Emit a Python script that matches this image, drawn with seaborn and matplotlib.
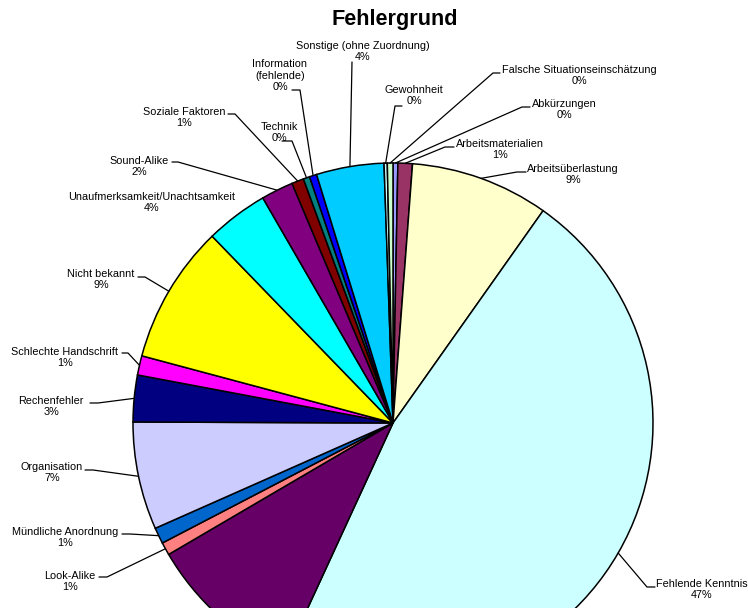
import numpy as np
import pandas as pd
import seaborn as sns
import matplotlib.pyplot as plt

sns.set_style("white")
plt.rcParams["font.family"] = ["Liberation Sans", "DejaVu Sans"]

# Daten (Anteile in %, im Uhrzeigersinn ab 12 Uhr)
kategorien = [
    "Abkürzungen", "Arbeitsmaterialien", "Arbeitsüberlastung", "Fehlende Kenntnis",
    "(abgeschnitten)", "Look-Alike", "Mündliche Anordnung", "Organisation",
    "Rechenfehler", "Schlechte Handschrift", "Nicht bekannt",
    "Unaufmerksamkeit/Unachtsamkeit", "Sound-Alike", "Soziale Faktoren", "Technik",
    "Information\n(fehlende)", "Sonstige (ohne Zuordnung)", "Gewohnheit",
    "Falsche Situationseinschätzung",
]
anteile = [0.3, 0.9, 8.6, 47.1, 9.7, 0.8, 1.0, 6.7, 2.9, 1.2, 8.6,
           3.9, 2.0, 0.75, 0.4, 0.45, 4.2, 0.2, 0.35]
farben = ["#9999FF", "#993366", "#FFFFCC", "#CCFFFF", "#660066", "#FF8080",
          "#0066CC", "#CCCCFF", "#000080", "#FF00FF", "#FFFF00", "#00FFFF",
          "#800080", "#800000", "#008080", "#0000FF", "#00CCFF", "#CCFFFF",
          "#CCFFCC"]

df = pd.DataFrame({"grund": kategorien, "anteil": anteile, "farbe": farben})

# Layout in Pixeln (Bild 748x608, y nach unten)
W, H = 748, 608
cx, cy, r = 393, 423, 260
# Textmitte x, y der ersten Zeile, Haken (x Textseite, x Knick, y) oder None
beschriftung = {
    "Abkürzungen": (564, 103, (530, 522, 107)),
    "Arbeitsmaterialien": (500, 143, (454, 445, 147)),
    "Arbeitsüberlastung": (573, 168, (526, 517, 172)),
    "Fehlende Kenntnis": (702, 583, (655, 647, 587)),
    "Look-Alike": (70, 575, (99, 107, 577)),
    "Mündliche Anordnung": (65, 531, (122, 130, 534)),
    "Organisation": (52, 466, (85, 93, 470)),
    "Rechenfehler": (51, 400, (90, 98, 403)),
    "Schlechte Handschrift": (65, 351, (122, 128, 353)),
    "Nicht bekannt": (101, 273, (138, 145, 277)),
    "Unaufmerksamkeit/Unachtsamkeit": (152, 196, None),
    "Sound-Alike": (139, 160, (172, 178, 162)),
    "Soziale Faktoren": (184, 111, (228, 235, 114)),
    "Technik": (279, 126, (282, 292, 141)),
    "Information\n(fehlende)": (280, 63, (292, 300, 90)),
    "Sonstige (ohne Zuordnung)": (363, 45, (352, 352, 62)),
    "Gewohnheit": (414, 89, (402, 395, 106)),
    "Falsche Situationseinschätzung": (579, 69, (500, 493, 73)),
}

fig = plt.figure(figsize=(W / 100, H / 100), dpi=100)
ax = fig.add_axes([0, 0, 1, 1])

wedges, _ = ax.pie(df["anteil"], colors=df["farbe"], startangle=90,
                   counterclock=False, radius=r, center=(cx, H - cy),
                   wedgeprops=dict(edgecolor="black", linewidth=1.1))

zeile = 12.8
for w, name, val in zip(wedges, df["grund"], df["anteil"]):
    if name not in beschriftung:
        continue
    tx, ty, haken = beschriftung[name]
    text = f"{name}\n{np.round(val):.0f}%"
    n = text.count("\n") + 1
    ax.text(tx, H - (ty + (n - 1) * zeile / 2), text, ha="center", va="center",
            fontsize=7.8, color="black", linespacing=1.2)
    if haken is not None:
        mid = np.deg2rad((w.theta1 + w.theta2) / 2)
        ex = cx + r * np.cos(mid)
        ey = (H - cy) + r * np.sin(mid)
        x0, x1, hy = haken
        ax.plot([x0, x1, ex], [H - hy, H - hy, ey], color="black", lw=0.9)

ax.text(395, H - 24.5, "Fehlergrund", ha="center", va="baseline",
        fontsize=15.6, fontweight="bold", color="black")

ax.set_xlim(0, W)
ax.set_ylim(0, H)
ax.set_aspect("equal")
ax.axis("off")

fig.savefig("out.png", dpi=100)
